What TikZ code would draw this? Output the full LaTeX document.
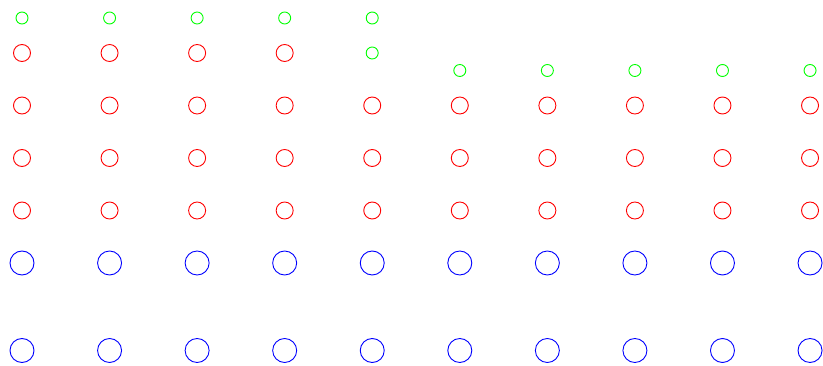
\documentclass[tikz,border=0pt]{standalone}
\begin{document}
\begin{tikzpicture}[x=1pt,y=-1pt,
  gdot/.style={circle,draw={rgb,255:red,0;green,255;blue,0},line width=0.9pt,inner sep=0pt,minimum size=12pt},
  rdot/.style={circle,draw={rgb,255:red,255;green,0;blue,0},line width=0.9pt,inner sep=0pt,minimum size=17pt},
  bdot/.style={circle,draw={rgb,255:red,0;green,0;blue,255},line width=0.9pt,inner sep=0pt,minimum size=24pt}]
\useasboundingbox (0,0) rectangle (823,366);
\foreach \i in {0,...,9}{
  \pgfmathsetmacro{\xx}{22+87.56*\i}
  \node[rdot] (ra\i) at (\xx,105.5) {};
  \node[rdot] (rb\i) at (\xx,158) {};
  \node[rdot] (rc\i) at (\xx,210.5) {};
  \node[bdot] (ba\i) at (\xx,263) {};
  \node[bdot] (bb\i) at (\xx,350.5) {};
}
\foreach \i in {0,...,4}{
  \pgfmathsetmacro{\xx}{22+87.56*\i}
  \node[gdot] (gt\i) at (\xx,18) {};
}
\foreach \i in {0,...,3}{
  \pgfmathsetmacro{\xx}{22+87.56*\i}
  \node[rdot] (rt\i) at (\xx,53) {};
}
\node[gdot] (gm4) at (372.2,53) {};
\foreach \i in {5,...,9}{
  \pgfmathsetmacro{\xx}{22+87.56*\i}
  \node[gdot] (gl\i) at (\xx,70.5) {};
}
\end{tikzpicture}
\end{document}
